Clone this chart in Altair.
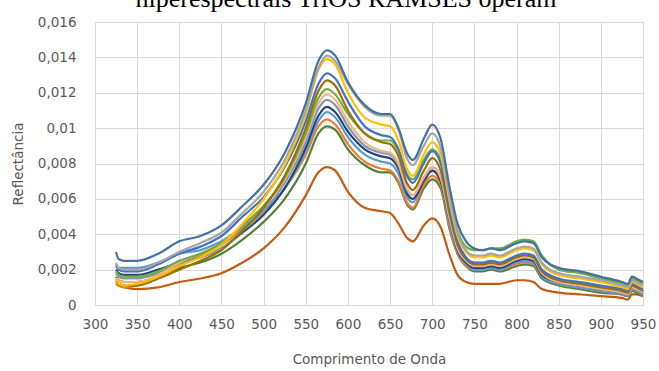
import altair as alt
import pandas as pd

# Wavelengths (nm) at which each reflectance spectrum is sampled
wavelength = [325, 328, 335, 350, 375, 400, 425, 450, 475, 500, 525, 550, 565, 575, 585,
              600, 620, 640, 650, 660, 670, 677, 690, 700, 710, 720, 730, 740, 750, 760,
              770, 780, 800, 810, 820, 830, 850, 875, 900, 925, 932, 937, 942, 950]

s01 = [0.0030, 0.0026, 0.0025, 0.0025, 0.0029, 0.0036, 0.0039, 0.0045, 0.0056, 0.0068, 0.0086, 0.0114, 0.0138, 0.0144, 0.0141,
       0.0126, 0.0113, 0.0108, 0.0108, 0.0100, 0.0086, 0.0082, 0.0094, 0.0102, 0.0094, 0.0068, 0.0046, 0.0036, 0.0032, 0.0031,
       0.0032, 0.0031, 0.0035, 0.0036, 0.0035, 0.0027, 0.0021, 0.0019, 0.0016, 0.0013, 0.0012, 0.0016, 0.0015, 0.0013]
s02 = [0.0024, 0.0021, 0.0020, 0.0020, 0.0024, 0.0030, 0.0035, 0.0041, 0.0052, 0.0064, 0.0082, 0.0110, 0.0134, 0.0141, 0.0138,
       0.0125, 0.0112, 0.0107, 0.0107, 0.0099, 0.0083, 0.0079, 0.0090, 0.0097, 0.0089, 0.0063, 0.0041, 0.0031, 0.0028, 0.0028,
       0.0029, 0.0028, 0.0032, 0.0033, 0.0032, 0.0024, 0.0018, 0.0016, 0.0014, 0.0011, 0.0010, 0.0014, 0.0013, 0.0011]
s03 = [0.0015, 0.0012, 0.0011, 0.0012, 0.0016, 0.0022, 0.0027, 0.0034, 0.0046, 0.0060, 0.0079, 0.0108, 0.0133, 0.0139, 0.0136,
       0.0120, 0.0106, 0.0102, 0.0101, 0.0093, 0.0077, 0.0073, 0.0085, 0.0092, 0.0085, 0.0060, 0.0039, 0.0030, 0.0027, 0.0027,
       0.0028, 0.0027, 0.0031, 0.0032, 0.0031, 0.0023, 0.0017, 0.0015, 0.0013, 0.0010, 0.0009, 0.0013, 0.0012, 0.0010]
s04 = [0.0022, 0.0020, 0.0019, 0.0019, 0.0023, 0.0029, 0.0033, 0.0039, 0.0050, 0.0061, 0.0078, 0.0104, 0.0125, 0.0131, 0.0128,
       0.0115, 0.0101, 0.0096, 0.0095, 0.0088, 0.0073, 0.0069, 0.0080, 0.0087, 0.0080, 0.0056, 0.0036, 0.0027, 0.0024, 0.0024,
       0.0025, 0.0024, 0.0028, 0.0029, 0.0028, 0.0020, 0.0015, 0.0013, 0.0011, 0.0009, 0.0008, 0.0012, 0.0011, 0.0009]
s05 = [0.0014, 0.0012, 0.0011, 0.0011, 0.0015, 0.0020, 0.0025, 0.0031, 0.0042, 0.0055, 0.0073, 0.0100, 0.0121, 0.0127, 0.0124,
       0.0110, 0.0097, 0.0092, 0.0091, 0.0084, 0.0069, 0.0065, 0.0076, 0.0083, 0.0076, 0.0053, 0.0034, 0.0026, 0.0023, 0.0023,
       0.0024, 0.0023, 0.0027, 0.0028, 0.0027, 0.0019, 0.0014, 0.0012, 0.0010, 0.0008, 0.0007, 0.0011, 0.0010, 0.0008]
s06 = [0.0019, 0.0017, 0.0016, 0.0016, 0.0019, 0.0025, 0.0029, 0.0035, 0.0045, 0.0056, 0.0072, 0.0097, 0.0117, 0.0122, 0.0119,
       0.0108, 0.0097, 0.0093, 0.0093, 0.0087, 0.0074, 0.0071, 0.0082, 0.0088, 0.0082, 0.0060, 0.0042, 0.0033, 0.0031, 0.0031,
       0.0032, 0.0032, 0.0036, 0.0037, 0.0036, 0.0028, 0.0020, 0.0018, 0.0015, 0.0012, 0.0011, 0.0015, 0.0014, 0.0012]
s07 = [0.0015, 0.0014, 0.0013, 0.0013, 0.0017, 0.0024, 0.0029, 0.0035, 0.0045, 0.0056, 0.0071, 0.0095, 0.0114, 0.0119, 0.0116,
       0.0104, 0.0092, 0.0087, 0.0086, 0.0080, 0.0066, 0.0062, 0.0072, 0.0078, 0.0072, 0.0050, 0.0032, 0.0025, 0.0022, 0.0022,
       0.0023, 0.0022, 0.0026, 0.0027, 0.0026, 0.0018, 0.0013, 0.0011, 0.0009, 0.0007, 0.0006, 0.0010, 0.0009, 0.0007]
s08 = [0.0018, 0.0016, 0.0015, 0.0015, 0.0018, 0.0023, 0.0027, 0.0032, 0.0042, 0.0053, 0.0069, 0.0092, 0.0111, 0.0116, 0.0113,
       0.0101, 0.0090, 0.0086, 0.0085, 0.0079, 0.0065, 0.0062, 0.0072, 0.0078, 0.0072, 0.0051, 0.0033, 0.0026, 0.0023, 0.0023,
       0.0024, 0.0023, 0.0027, 0.0028, 0.0027, 0.0019, 0.0014, 0.0012, 0.0010, 0.0008, 0.0007, 0.0011, 0.0010, 0.0008]
s09 = [0.0020, 0.0018, 0.0017, 0.0017, 0.0020, 0.0024, 0.0027, 0.0032, 0.0041, 0.0051, 0.0066, 0.0089, 0.0107, 0.0112, 0.0109,
       0.0098, 0.0088, 0.0084, 0.0083, 0.0077, 0.0063, 0.0060, 0.0070, 0.0076, 0.0070, 0.0049, 0.0031, 0.0024, 0.0021, 0.0021,
       0.0022, 0.0021, 0.0025, 0.0026, 0.0025, 0.0017, 0.0013, 0.0011, 0.0009, 0.0007, 0.0006, 0.0010, 0.0009, 0.0007]
s10 = [0.0023, 0.0021, 0.0021, 0.0021, 0.0024, 0.0029, 0.0031, 0.0036, 0.0044, 0.0053, 0.0066, 0.0087, 0.0104, 0.0109, 0.0106,
       0.0095, 0.0085, 0.0081, 0.0080, 0.0074, 0.0061, 0.0058, 0.0071, 0.0076, 0.0070, 0.0047, 0.0030, 0.0023, 0.0020, 0.0020,
       0.0021, 0.0020, 0.0024, 0.0025, 0.0024, 0.0016, 0.0012, 0.0010, 0.0008, 0.0006, 0.0005, 0.0009, 0.0008, 0.0006]
s11 = [0.0013, 0.0011, 0.0010, 0.0011, 0.0015, 0.0022, 0.0028, 0.0034, 0.0043, 0.0053, 0.0066, 0.0085, 0.0101, 0.0105, 0.0102,
       0.0091, 0.0081, 0.0077, 0.0076, 0.0070, 0.0058, 0.0055, 0.0068, 0.0073, 0.0068, 0.0045, 0.0029, 0.0022, 0.0020, 0.0020,
       0.0021, 0.0020, 0.0023, 0.0024, 0.0023, 0.0016, 0.0012, 0.0010, 0.0008, 0.0006, 0.0005, 0.0009, 0.0008, 0.0006]
s12 = [0.0016, 0.0014, 0.0013, 0.0013, 0.0016, 0.0021, 0.0024, 0.0029, 0.0037, 0.0047, 0.0060, 0.0080, 0.0097, 0.0101, 0.0099,
       0.0088, 0.0079, 0.0075, 0.0075, 0.0069, 0.0057, 0.0054, 0.0066, 0.0071, 0.0066, 0.0044, 0.0029, 0.0022, 0.0019, 0.0019,
       0.0020, 0.0019, 0.0022, 0.0023, 0.0022, 0.0015, 0.0011, 0.0009, 0.0007, 0.0006, 0.0005, 0.0008, 0.0007, 0.0006]
s13 = [0.0012, 0.0011, 0.0010, 0.0009, 0.0010, 0.0013, 0.0015, 0.0018, 0.0024, 0.0032, 0.0044, 0.0062, 0.0075, 0.0078, 0.0076,
       0.0064, 0.0055, 0.0053, 0.0052, 0.0046, 0.0038, 0.0036, 0.0045, 0.0049, 0.0044, 0.0029, 0.0017, 0.0013, 0.0012, 0.0012,
       0.0012, 0.0012, 0.0014, 0.0014, 0.0013, 0.0009, 0.0007, 0.0006, 0.0005, 0.0004, 0.0003, 0.0006, 0.0006, 0.0005]

# Drawn bottom-up so the brightest spectra end up on top
series_names = ["P13", "P12", "P11", "P10", "P09", "P08", "P07", "P06", "P05", "P04", "P03", "P02", "P01"]
series_values = [s13, s12, s11, s10, s09, s08, s07, s06, s05, s04, s03, s02, s01]
series_colors = ["#C55A11", "#548235", "#ED7D31", "#5B9BD5", "#264478", "#8497B0", "#F4B183",
                 "#70AD47", "#997300", "#4472C4", "#FFC000", "#A5A5A5", "#44729E"]

title_text = "hiperespectrais TriOS RAMSES operam"

rows = []
for name, vals in zip(series_names, series_values):
    for w, v in zip(wavelength, vals):
        rows.append({"serie": name, "wl": w, "refl": v})
df = pd.DataFrame(rows)

label_color = "#595959"
grid_color = "#D9D9D9"
axis_font = "DejaVu Sans"

common_axis = dict(
    grid=True, gridColor=grid_color, gridWidth=1,
    domain=False, ticks=False, labelFlush=False, labelOverlap=False,
    labelFont=axis_font, labelFontSize=13.5, labelColor=label_color,
    titleFont=axis_font, titleFontSize=13.5, titleColor=label_color, titleFontWeight="normal",
)

lines = alt.Chart(df).mark_line(strokeWidth=2.2, interpolate="monotone").encode(
    x=alt.X("wl:Q",
            scale=alt.Scale(domain=[300, 950], nice=False),
            axis=alt.Axis(title="Comprimento de Onda", values=list(range(300, 951, 50)),
                          format="d", labelPadding=12, titlePadding=22, **common_axis)),
    y=alt.Y("refl:Q",
            scale=alt.Scale(domain=[0, 0.016], nice=False),
            axis=alt.Axis(title="Reflectância", values=[i * 0.002 for i in range(9)],
                          labelExpr="replace(format(datum.value, '.3~f'), '.', ',')",
                          labelPadding=19, titlePadding=12, **common_axis)),
    color=alt.Color("serie:N", scale=alt.Scale(domain=series_names, range=series_colors),
                    legend=None, sort=series_names),
    order=alt.Order("wl:Q"),
)

heading = alt.Chart(alt.Data(values=[{"t": title_text}])).mark_text(
    font="Liberation Serif", fontSize=26, color="#000000", baseline="alphabetic", align="center"
).encode(
    text="t:N",
    x=alt.value(251),
    y=alt.value(-15.5),
)

chart = alt.layer(lines, heading).properties(
    width=548,
    height=283,
    background="white",
    autosize=alt.AutoSizeParams(type="none"),
    padding={"left": 95, "top": 22, "right": 16, "bottom": 66},
).configure_view(
    stroke=grid_color, strokeWidth=1
)

chart.save("out.html", embed_options={"renderer": "svg", "actions": False})
